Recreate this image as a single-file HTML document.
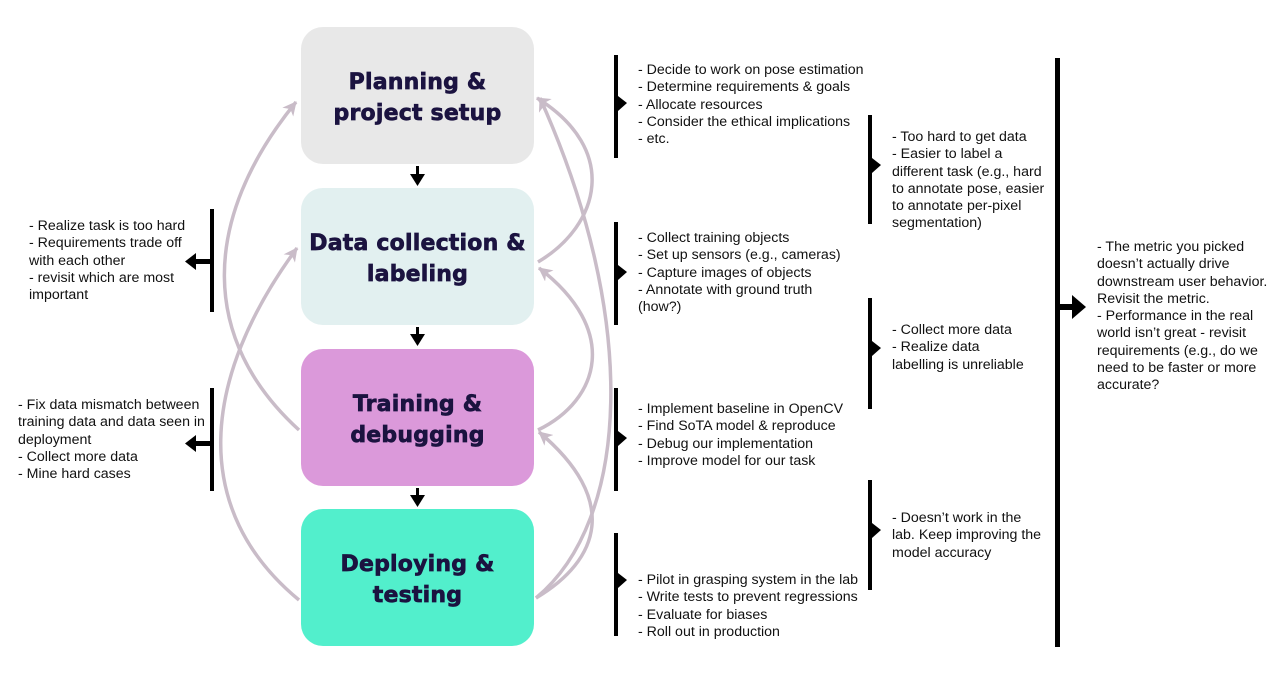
<!DOCTYPE html>
<html><head><style>
body{margin:0;background:#fff;width:1281px;height:674px;overflow:hidden;position:relative;font-family:"Liberation Sans",Arial,sans-serif}
.box{position:absolute;left:301px;width:233px;height:137px;border-radius:22px;display:flex;align-items:center;justify-content:center;text-align:center;font-family:"DejaVu Sans","Liberation Sans",sans-serif;font-weight:bold;font-size:22px;line-height:31px;color:#1b1340;letter-spacing:0.2px;-webkit-text-stroke:0.7px #1b1340;padding-top:4px;box-sizing:border-box}
.t{position:absolute;font-size:14.2px;line-height:17.3px;color:#111;white-space:pre}
</style></head><body>
<svg width="1281" height="674" style="position:absolute;left:0;top:0">
<defs>
<marker id="g" markerWidth="16" markerHeight="14" refX="13" refY="7" orient="auto" markerUnits="userSpaceOnUse"><path d="M0,0 L14,7 L0,14 L4,7 z" fill="#c9bcc8"/></marker>
</defs>
<g fill="none" stroke="#c9bcc8" stroke-width="3.5" marker-end="url(#g)">
<path d="M299,430 C200,340 200,220 296,102"/>
<path d="M299,600 C190,510 200,380 297,248"/>
<path d="M538,262 C600,225 620,150 537,98"/>
<path d="M538,430 C600,400 620,330 539,268"/>
<path d="M536,598 C600,560 620,500 539,432"/>
<path d="M536,598 C630,520 640,320 540,98"/>
</g>
<g fill="#000">
<rect x="416" y="166" width="3" height="10"/><path d="M410,174 L425,174 L417.5,186 z"/>
<rect x="416" y="327" width="3" height="10"/><path d="M410,334 L425,334 L417.5,346 z"/>
<rect x="416" y="488" width="3" height="10"/><path d="M410,495 L425,495 L417.5,507 z"/>
<rect x="210" y="209" width="4" height="103"/><rect x="194" y="259" width="16" height="5"/><path d="M196,253 L185,261.5 L196,270 z"/>
<rect x="210" y="388" width="4" height="103"/><rect x="194" y="441" width="16" height="5"/><path d="M196,435 L185,443.5 L196,452 z"/>
<rect x="614" y="55" width="4" height="103"/><path d="M618,96 L627,103 L618,111 z"/>
<rect x="614" y="222" width="4" height="103"/><path d="M618,265 L627,272 L618,280 z"/>
<rect x="614" y="388" width="4" height="103"/><path d="M618,431 L627,438 L618,446 z"/>
<rect x="614" y="533" width="4" height="103"/><path d="M618,573 L627,580 L618,588 z"/>
<rect x="868" y="115" width="4" height="109"/><path d="M872,158 L881,165 L872,173 z"/>
<rect x="868" y="298" width="4" height="111"/><path d="M872,341 L881,348 L872,356 z"/>
<rect x="868" y="480" width="4" height="110"/><path d="M872,523 L881,530 L872,538 z"/>
<rect x="1055" y="58" width="5" height="589"/><rect x="1060" y="304" width="14" height="6"/><path d="M1072,295 L1086,307 L1072,319 z"/>
</g>
</svg>
<div class="box" style="top:27px;background:#e8e8e8">Planning &amp;<br>project setup</div>
<div class="box" style="top:188px;background:#e2f0f0">Data collection &amp;<br>labeling</div>
<div class="box" style="top:349px;background:#db99da">Training &amp;<br>debugging</div>
<div class="box" style="top:509px;background:#52efcc">Deploying &amp;<br>testing</div>

<div class="t" style="left:29px;top:218px">- Realize task is too hard
- Requirements trade off
with each other
- revisit which are most
important</div>
<div class="t" style="left:18px;top:397px">- Fix data mismatch between
training data and data seen in
deployment
- Collect more data
- Mine hard cases</div>
<div class="t" style="left:638px;top:62px">- Decide to work on pose estimation
- Determine requirements &amp; goals
- Allocate resources
- Consider the ethical implications
- etc.</div>
<div class="t" style="left:638px;top:230px">- Collect training objects
- Set up sensors (e.g., cameras)
- Capture images of objects
- Annotate with ground truth
(how?)</div>
<div class="t" style="left:638px;top:401px">- Implement baseline in OpenCV
- Find SoTA model &amp; reproduce
- Debug our implementation
- Improve model for our task</div>
<div class="t" style="left:638px;top:572px">- Pilot in grasping system in the lab
- Write tests to prevent regressions
- Evaluate for biases
- Roll out in production</div>
<div class="t" style="left:892px;top:129px">- Too hard to get data
- Easier to label a
different task (e.g., hard
to annotate pose, easier
to annotate per-pixel
segmentation)</div>
<div class="t" style="left:892px;top:322px">- Collect more data
- Realize data
labelling is unreliable</div>
<div class="t" style="left:892px;top:510px">- Doesn’t work in the
lab. Keep improving the
model accuracy</div>
<div class="t" style="left:1097px;top:239px">- The metric you picked
doesn’t actually drive
downstream user behavior.
Revisit the metric.
- Performance in the real
world isn’t great - revisit
requirements (e.g., do we
need to be faster or more
accurate?</div>
</body></html>
